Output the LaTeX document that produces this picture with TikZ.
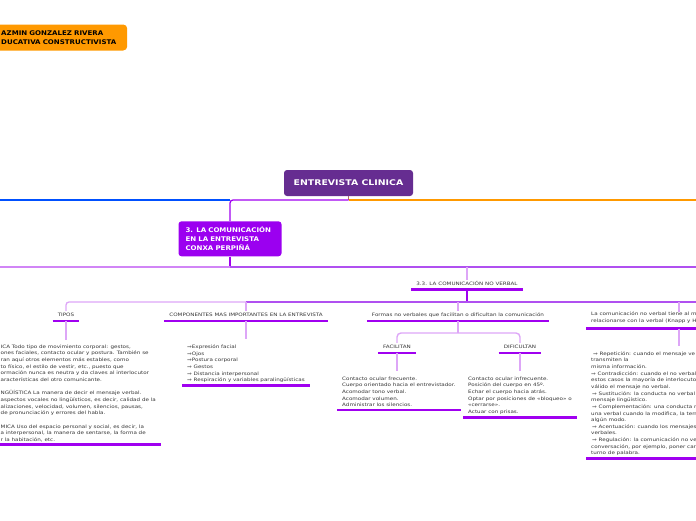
\documentclass[tikz,border=0pt]{standalone}
\usepackage{fontspec}
\setmainfont{DejaVu Sans}
\newfontfamily\smallfam[FakeStretch=1.22]{DejaVu Sans}
\newfontfamily\boldfam[FakeStretch=1.1]{DejaVu Sans}
\newfontfamily\titlefam[FakeStretch=1.2]{DejaVu Sans}
\usetikzlibrary{calc}
\definecolor{txtc}{HTML}{333333}
\definecolor{orangec}{HTML}{FF9900}
\definecolor{ecfill}{HTML}{662D91}
\definecolor{cfill}{HTML}{9B00F0}
\definecolor{barc}{HTML}{A000F0}
\definecolor{lightc}{HTML}{DDA6F7}
\definecolor{midc}{HTML}{B050F0}
\definecolor{bluec}{HTML}{0050FF}
\definecolor{brownc}{HTML}{B06A70}
\begin{document}
\begin{tikzpicture}[x=1pt,y=-1pt,
  smalltxt/.style={font=\smallfam\fontsize{4.6}{6.65}\selectfont, text=txtc, inner xsep=0pt, inner ysep=1.5pt},
  lab/.style={smalltxt, anchor=base},
  blk/.style={smalltxt, anchor=north west, align=left, inner ysep=0pt},
  bar/.style={line width=2.8pt, draw=barc},
  stub/.style={line width=1.4pt, draw=lightc},
  busline/.style={line width=1.3pt},
  topic/.style={rounded corners=3pt, text=white, font=\boldfam\bfseries\fontsize{6.4}{9}\selectfont, align=left}
]
\useasboundingbox (0,0) rectangle (696,520);

% top-left orange node
\node[topic, fill=orangec, anchor=west, inner xsep=5pt, text width=121pt, minimum height=26pt, text=black, rounded corners=4pt] (yaz) at (-4,37.5)
  {AZMIN GONZALEZ RIVERA\\DUCATIVA CONSTRUCTIVISTA};

% main node
\node[topic, fill=ecfill, minimum width=129pt, minimum height=26pt, font=\titlefam\bfseries\fontsize{7.8}{9}\selectfont] (ec) at (348.5,183) {ENTREVISTA CLINICA};

\coordinate (h0L) at (0,200);
\coordinate (h0R) at (696,200);
\coordinate (j0) at (348.5,200);
\coordinate (j0L) at (230,200);
\draw[busline, draw=brownc] (ec.south) -- (j0);
\draw[busline, draw=bluec] (h0L) -- (j0L);
\draw[busline, draw=orangec] (j0) -- (h0R);

% section node
\node[topic, fill=cfill, minimum width=103pt, minimum height=35pt, text width=89pt, inner xsep=7pt] (c3) at (230,238.8)
  {3. LA COMUNICACIÓN\\EN LA ENTREVISTA\\CONXA PERPIÑÁ};
\draw[busline, draw=barc, rounded corners=3pt] (j0) -| (c3.north);

\coordinate (j1) at (230,267);
\coordinate (h1L) at (0,267);
\coordinate (h1R) at (696,267);
\coordinate (j2) at (467,267);
\draw[busline, draw=barc] (c3.south) -- (j1);
\draw[busline, draw=lightc!80!barc] (j1) -- (h1L);
\draw[busline, draw=midc] (j1) -- (h1R);

% 3.3 label
\node[lab] (l33) at (467,285.5) {3.3. LA COMUNICACIÓN NO VERBAL};
\draw[bar] ($(l33.base west)+(-5,4)$) -- ($(l33.base east)+(5,4)$);
\draw[stub] (j2) -- (l33.north);
\coordinate (l33b) at ($(l33.base)+(0,4)$);
\coordinate (j3) at (467,302);
\coordinate (j3b) at (246,302);
\coordinate (h3R) at (696,302);
\draw[busline, draw=barc] (l33b) -- (j3);

% children labels
\node[lab] (tipos) at (66,316) {TIPOS};
\node[lab] (comp) at (246,316) {COMPONENTES MAS IMPORTANTES EN LA ENTREVISTA};
\node[lab] (formas) at (458,316) {Formas no verbales que facilitan o dificultan la comunicación};
\node[smalltxt, anchor=north west, align=left, inner ysep=0pt] (lacom) at (591,312)
  {La comunicación no verbal tiene al me\\relacionarse con la verbal (Knapp y H};

\draw[busline, draw=lightc, rounded corners=3pt] (j3b) -| (tipos.north);
\draw[busline, draw=midc] (j3b) -- (h3R);
\draw[stub] (j3b) -- (comp.north);
\draw[stub] (458,302) -- (formas.north);
\coordinate (jlc) at (679,302);
\draw[stub] (jlc) -- (jlc |- lacom.north);

\foreach \n in {tipos,comp,formas}{
  \draw[bar] ($(\n.base west)+(-5,5)$) -- ($(\n.base east)+(5,5)$);
}
\draw[bar] ($(lacom.south west)+(-5,5)$) -- ($(lacom.south east)+(5,5)$);

% blocks
\node[blk] (tipblk) at (0.5,344.6) {%
ICA Todo tipo de movimiento corporal: gestos,\\
ones faciales, contacto ocular y postura. También se\\
ran aquí otros elementos más estables, como\\
to físico, el estilo de vestir, etc., puesto que\\
ormación nunca es neutra y da claves al interlocutor\\
aracterísticas del otro comunicante.\\[6.6pt]
NGÜÍSTICA La manera de decir el mensaje verbal.\\
aspectos vocales no lingüísticos, es decir, calidad de la\\
alizaciones, velocidad, volumen, silencios, pausas,\\
de pronunciación y errores del habla.\\[6.6pt]
MICA Uso del espacio personal y social, es decir, la\\
a interpersonal, la manera de sentarse, la forma de\\
r la habitación, etc.};

\node[blk] (compblk) at (187,344.6) {%
⇒Expresión facial\\
⇒Ojos\\
⇒Postura corporal\\
⇒ Gestos\\
⇒ Distancia interpersonal\\
⇒ Respiración y variables paralingüísticas};

\node[blk] (lacblk) at (591,351.3) {%
\hspace{2pt}⇒ Repetición: cuando el mensaje ve\\
transmiten la\\
misma información.\\
⇒ Contradicción: cuando el no verbal\\
estos casos la mayoría de interlocutor\\
válido el mensaje no verbal.\\
\hspace{1pt}⇒ Sustitución: la conducta no verbal\\
mensaje lingüístico.\\
\hspace{1pt}⇒ Complementación: una conducta n\\
una verbal cuando la modifica, la term\\
algún modo.\\
\hspace{1pt}⇒ Acentuación: cuando los mensajes\\
verbales.\\
\hspace{1pt}⇒ Regulación: la comunicación no ve\\
conversación, por ejemplo, poner cara\\
turno de palabra.};

% FACILITAN / DIFICULTAN
\node[lab] (fac) at (397,348) {FACILITAN};
\node[lab] (dif) at (520,348) {DIFICULTAN};
\draw[bar] ($(fac.base west)+(-5,5)$) -- ($(fac.base east)+(5,5)$);
\draw[bar] ($(dif.base west)+(-5,5)$) -- ($(dif.base east)+(5,5)$);

\coordinate (fb) at ($(formas.base)+(0,5)$);
\coordinate (jf) at (458,333);
\draw[stub] (fb) -- (jf);
\draw[stub, rounded corners=4pt] (jf) -| (fac.north);
\draw[stub, rounded corners=4pt] (jf) -| (dif.north);

\node[blk] (facblk) at (342,376.6) {%
Contacto ocular frecuente.\\
Cuerpo orientado hacia el entrevistador.\\
Acomodar tono verbal.\\
Acomodar volumen.\\
Administrar los silencios.};

\node[blk] (difblk) at (468,376.6) {%
Contacto ocular infrecuente.\\
Posición del cuerpo en 45º.\\
Echar el cuerpo hacia atrás.\\
Optar por posiciones de «bloqueo» o\\
«cerrarse».\\
Actuar con prisas.};

% stubs from bars to blocks
\coordinate (tb) at ($(tipos.base)+(0,5)$);
\coordinate (cb) at ($(comp.base)+(0,5)$);
\coordinate (fab) at ($(fac.base)+(0,5)$);
\coordinate (db) at ($(dif.base)+(0,5)$);
\coordinate (lb) at ($(lacom.south west)+(88,5)$);
\draw[stub] (tb) -- ++(0,19);
\draw[stub] (cb) -- ++(0,18);
\draw[stub] (fab) -- ++(0,18);
\draw[stub] (db) -- ++(0,18);
\draw[stub] (lb) -- ++(0,17);

% bars under blocks
\foreach \n in {tipblk,compblk,facblk,difblk,lacblk}{
  \draw[bar] ($(\n.south west)+(-5,2.8)$) -- ($(\n.south east)+(5,2.8)$);
}
\end{tikzpicture}
\end{document}
